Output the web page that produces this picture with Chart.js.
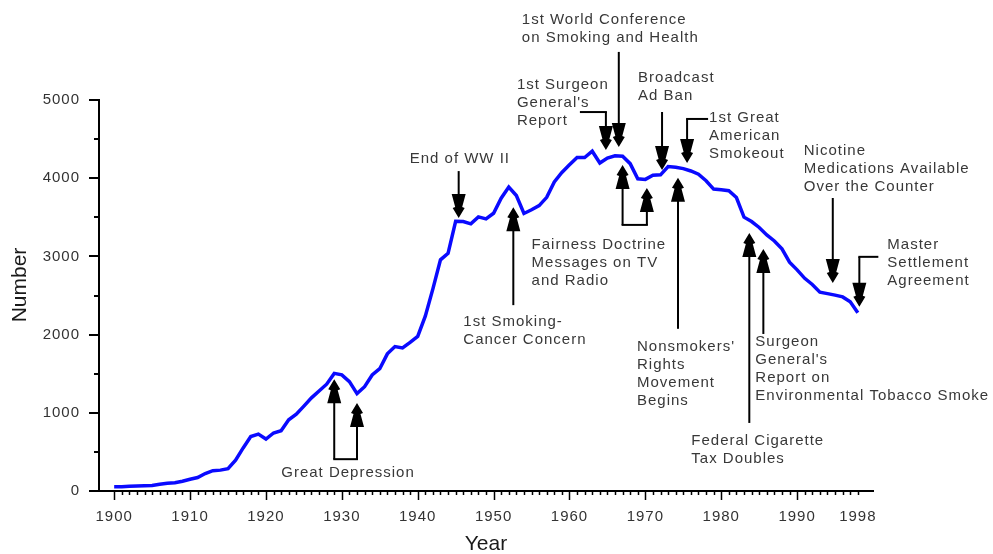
<!DOCTYPE html>
<html>
<head>
<meta charset="utf-8">
<script src="https://cdn.jsdelivr.net/npm/chart.js@4/dist/chart.umd.min.js"></script>
<style>
  html, body { margin: 0; padding: 0; background: #fff; }
  #wrap { width: 993px; height: 554px; }
</style>
</head>
<body>
<div id="wrap"><canvas id="smokeChart" width="993" height="554"></canvas></div>
<script>
const FONT = '"Liberation Sans", Arial, Helvetica, sans-serif';

// per capita cigarette consumption, 1900-1998
const years = [
  1900, 1901, 1902, 1903, 1904, 1905, 1906, 1907, 1908, 1909,
  1910, 1911, 1912, 1913, 1914, 1915, 1916, 1917, 1918, 1919,
  1920, 1921, 1922, 1923, 1924, 1925, 1926, 1927, 1928, 1929,
  1930, 1931, 1932, 1933, 1934, 1935, 1936, 1937, 1938, 1939,
  1940, 1941, 1942, 1943, 1944, 1945, 1946, 1947, 1948, 1949,
  1950, 1951, 1952, 1953, 1954, 1955, 1956, 1957, 1958, 1959,
  1960, 1961, 1962, 1963, 1964, 1965, 1966, 1967, 1968, 1969,
  1970, 1971, 1972, 1973, 1974, 1975, 1976, 1977, 1978, 1979,
  1980, 1981, 1982, 1983, 1984, 1985, 1986, 1987, 1988, 1989,
  1990, 1991, 1992, 1993, 1994, 1995, 1996, 1997, 1998
];
const consumption = [
  54, 53, 60, 64, 66, 70, 86, 99, 105, 125,
  151, 173, 223, 260, 267, 285, 395, 551, 697, 727,
  665, 742, 770, 911, 982, 1085, 1191, 1279, 1366, 1504,
  1485, 1399, 1245, 1334, 1483, 1564, 1754, 1847, 1830, 1900,
  1976, 2236, 2585, 2956, 3039, 3449, 3446, 3416, 3505, 3480,
  3552, 3744, 3886, 3778, 3549, 3597, 3650, 3755, 3953, 4073,
  4171, 4266, 4265, 4345, 4194, 4258, 4287, 4280, 4186, 3993,
  3985, 4037, 4043, 4148, 4141, 4123, 4092, 4051, 3967, 3861,
  3851, 3840, 3753, 3502, 3446, 3370, 3274, 3197, 3096, 2926,
  2828, 2720, 2641, 2543, 2524, 2505, 2482, 2420, 2280
];
const xTickYears = [1900, 1910, 1920, 1930, 1940, 1950, 1960, 1970, 1980, 1990, 1998];
const yTickValues = [0, 1000, 2000, 3000, 4000, 5000];

// event annotations: arrow tips in data units (year, value)
const events = [
  { lines: ['End of WW II'], tips: [[1945.4, 3490]], dir: 'down', len: 47, label: [-49, -59] },
  { lines: ['1st Surgeon', "General's", 'Report'], tips: [[1964.8, 4360]], dir: 'down', len: 38, elbow: -26, label: [-89, -65] },
  { lines: ['1st World Conference', 'on Smoking and Health'], tips: [[1966.5, 4400]], dir: 'down', len: 95, label: [-97, -127] },
  { lines: ['Broadcast', 'Ad Ban'], tips: [[1972.2, 4105]], dir: 'down', len: 58, label: [-24, -92] },
  { lines: ['1st Great', 'American', 'Smokeout'], tips: [[1975.5, 4195]], dir: 'down', len: 44, elbow: 21, label: [22, -45] },
  { lines: ['Nicotine', 'Medications Available', 'Over the Counter'], tips: [[1994.7, 2660]], dir: 'down', len: 85, label: [-29, -132] },
  { lines: ['Master', 'Settlement', 'Agreement'], tips: [[1998.2, 2355]], dir: 'down', len: 50, elbow: 19, label: [28, -62] },
  { lines: ['1st Smoking-', 'Cancer Concern'], tips: [[1952.6, 3630]], dir: 'up', len: 98, label: [-50, 115] },
  { lines: ['Fairness Doctrine', 'Messages on TV', 'and Radio'], tips: [[1967.0, 4170], [1970.2, 3875]], dir: 'up', len: 60, label: [-91, 80] },
  { lines: ["Nonsmokers'", 'Rights', 'Movement', 'Begins'], tips: [[1974.3, 4005]], dir: 'up', len: 151, label: [-41, 169] },
  { lines: ['Federal Cigarette', 'Tax Doubles'], tips: [[1983.7, 3300]], dir: 'up', len: 190, label: [-58, 208] },
  { lines: ['Surgeon', "General's", 'Report on', 'Environmental Tobacco Smoke'], tips: [[1985.55, 3095]], dir: 'up', len: 85, label: [-8, 93] },
  { lines: ['Great Depression'], tips: [[1929.0, 1430], [1932.0, 1125]], dir: 'up', len: 80, label: [-53, 94] }
];

function drawHead(ctx, x, y, back) {
  const pts = [[0, 0], [6, 10], [3.5, 11], [7, 24], [-7, 24], [-3.5, 11], [-6, 10]];
  ctx.beginPath();
  pts.forEach((p, i) => {
    const px = x + p[0], py = y + p[1] * back;
    if (i === 0) ctx.moveTo(px, py); else ctx.lineTo(px, py);
  });
  ctx.closePath();
  ctx.fill();
}

const decorPlugin = {
  id: 'decor',
  beforeDraw(chart) {
    chart.ctx.letterSpacing = '1px';
  },
  afterDraw(chart) {
    const ctx = chart.ctx;
    const xs = chart.scales.x, ys = chart.scales.y;
    const area = chart.chartArea;
    ctx.save();
    ctx.strokeStyle = '#000';
    ctx.fillStyle = '#000';
    ctx.lineWidth = 2;

    // y tick marks (major every 1000, minor every 500)
    for (let v = 0; v <= 5000; v += 500) {
      const py = Math.round(ys.getPixelForValue(v));
      const l = v % 1000 === 0 ? 10 : 5;
      ctx.beginPath();
      ctx.moveTo(area.left - l, py);
      ctx.lineTo(area.left, py);
      ctx.stroke();
    }
    // x tick marks (every year, longer at decades)
    ctx.lineWidth = 1.5;
    for (let yr = 1900; yr <= 1998; yr++) {
      const px = Math.round(xs.getPixelForValue(yr)) + 0.5;
      const l = yr % 10 === 0 ? 9 : 4;
      ctx.beginPath();
      ctx.moveTo(px, area.bottom);
      ctx.lineTo(px, area.bottom + l);
      ctx.stroke();
    }

    // event arrows
    ctx.lineWidth = 2;
    events.forEach(ev => {
      const back = ev.dir === 'down' ? -1 : 1;
      const pts = ev.tips.map(t => [xs.getPixelForValue(t[0]), ys.getPixelForValue(t[1])]);
      const endY = pts[0][1] + back * ev.len;
      pts.forEach(p => {
        ctx.beginPath();
        ctx.moveTo(p[0], p[1] + back * 18);
        ctx.lineTo(p[0], endY);
        ctx.stroke();
        drawHead(ctx, p[0], p[1], back);
      });
      if (pts.length > 1) {
        ctx.beginPath();
        ctx.moveTo(pts[0][0] - 1, endY);
        ctx.lineTo(pts[1][0] + 1, endY);
        ctx.stroke();
      }
      if (ev.elbow) {
        ctx.beginPath();
        ctx.moveTo(pts[0][0] - (ev.elbow > 0 ? 1 : -1), endY);
        ctx.lineTo(pts[0][0] + ev.elbow, endY);
        ctx.stroke();
      }
      ctx.fillStyle = '#383838';
      ctx.font = '15px ' + FONT;
      ctx.letterSpacing = '1px';
      ctx.textAlign = 'left';
      ctx.textBaseline = 'middle';
      ev.lines.forEach((s, i) => {
        ctx.fillText(s, pts[0][0] + ev.label[0], pts[0][1] + ev.label[1] + i * 18);
      });
      ctx.fillStyle = '#000';
    });

    // axis titles
    ctx.fillStyle = '#1a1a1a';
    ctx.font = '21px ' + FONT;
    ctx.letterSpacing = '0px';
    ctx.textAlign = 'center';
    ctx.textBaseline = 'middle';
    ctx.fillText('Year', (area.left + area.right) / 2 + 0, 544);
    ctx.translate(20, 285);
    ctx.rotate(-Math.PI / 2);
    ctx.fillText('Number', 0, 0);
    ctx.restore();
  }
};

let ctx = document.getElementById('smokeChart').getContext('2d');
let smokeChart = new Chart(ctx, {
  type: 'line',
  data: {
    datasets: [{
      label: 'Per capita consumption',
      data: years.map((yr, i) => ({ x: yr, y: consumption[i] })),
      borderColor: '#0a0aff',
      borderWidth: 3.5,
      pointRadius: 0,
      tension: 0,
      fill: false
    }]
  },
  options: {
    responsive: false,
    animation: false,
    events: [],
    layout: { padding: { left: 0, right: 120, top: 100, bottom: 0 } },
    plugins: { legend: { display: false }, tooltip: { enabled: false } },
    scales: {
      x: {
        type: 'linear',
        min: 1898,
        max: 2000,
        afterFit: s => { s.height = 63; },
        afterBuildTicks: s => { s.ticks = xTickYears.map(v => ({ value: v })); },
        grid: { display: false, drawTicks: false },
        border: { display: true, color: '#000', width: 2 },
        ticks: {
          autoSkip: false,
          maxRotation: 0,
          padding: 17,
          color: '#333',
          font: { family: FONT, size: 15 },
          callback: v => String(v)
        }
      },
      y: {
        min: 0,
        max: 5000,
        afterFit: s => { s.width = 99; },
        afterBuildTicks: s => { s.ticks = yTickValues.map(v => ({ value: v })); },
        grid: { display: false, drawTicks: false },
        border: { display: true, color: '#000', width: 2 },
        ticks: {
          padding: 19,
          color: '#333',
          font: { family: FONT, size: 15 },
          callback: v => String(v)
        }
      }
    }
  },
  plugins: [decorPlugin]
});
</script>
</body>
</html>
